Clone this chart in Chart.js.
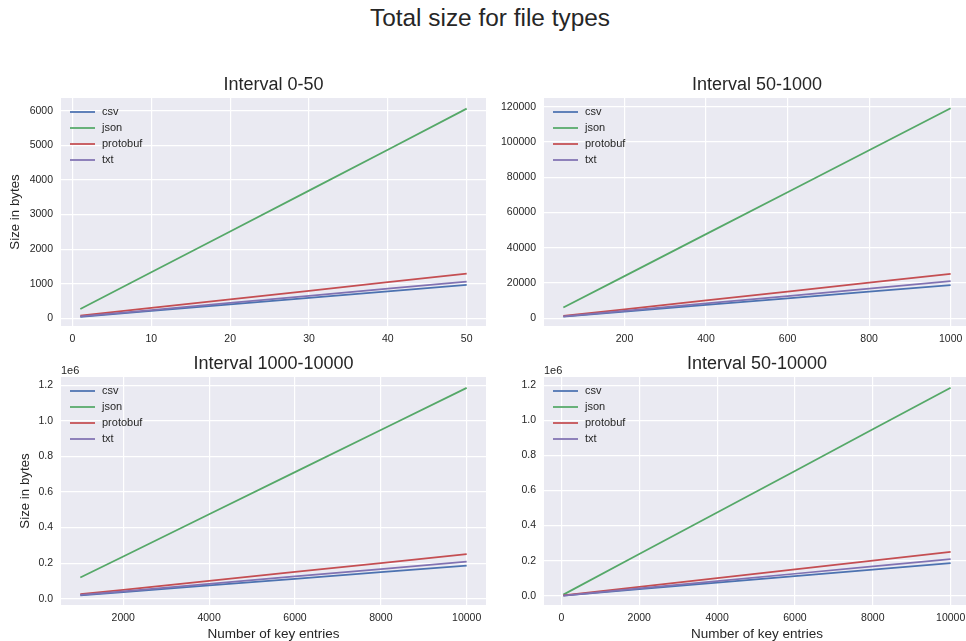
<!DOCTYPE html>
<html>
<head>
<meta charset="utf-8">
<title>Total size for file types</title>
<script src="https://cdn.jsdelivr.net/npm/chart.js@4.4.1/dist/chart.umd.min.js"></script>
<style>
  html, body { margin: 0; padding: 0; background: #fff; overflow: hidden; }
  body { width: 966px; height: 641px; position: relative; font-family: "Liberation Sans", Arial, sans-serif; }
  #suptitle { position: absolute; left: 0; top: 4px; width: 980px; text-align: center; font-size: 24.4px; line-height: 28px; color: #262626; }
  canvas { position: absolute; }
</style>
</head>
<body>
<div id="suptitle">Total size for file types</div>
<canvas id="c1" style="left:0;top:60px" width="500" height="292"></canvas>
<canvas id="c2" style="left:490px;top:60px" width="490" height="292"></canvas>
<canvas id="c3" style="left:0;top:340px" width="500" height="305"></canvas>
<canvas id="c4" style="left:490px;top:340px" width="490" height="305"></canvas>
<script>
const seriesNames = ['csv', 'json', 'protobuf', 'txt'];
const seriesColors = ['#4C72B0', '#55A868', '#C44E52', '#8172B2'];

// interval 0-50
const entries0to50 = [1, 10, 20, 30, 40, 50];
const csv0to50 = [45, 215, 404, 593, 782, 970];
const json0to50 = [267, 1330, 2510, 3690, 4870, 6060];
const protobuf0to50 = [80, 302, 549, 796, 1043, 1290];
const txt0to50 = [55, 240, 445, 650, 855, 1060];
const xTicks0to50 = [0, 10, 20, 30, 40, 50];
const yTicks0to50 = [0, 1000, 2000, 3000, 4000, 5000, 6000];

// interval 50-1000
const entries50to1000 = [50, 200, 400, 600, 800, 1000];
const csv50to1000 = [970, 3790, 7550, 11300, 15050, 18800];
const json50to1000 = [6060, 23900, 47700, 71500, 95300, 119100];
const protobuf50to1000 = [1290, 5060, 10100, 15130, 20170, 25200];
const txt50to1000 = [1060, 4210, 8400, 12600, 16800, 21000];
const xTicks50to1000 = [200, 400, 600, 800, 1000];
const yTicks50to1000 = [0, 20000, 40000, 60000, 80000, 100000, 120000];

// interval 1000-10000
const entries1000to10000 = [1000, 2000, 4000, 6000, 8000, 10000];
const csv1000to10000 = [18800, 37400, 74500, 111700, 148900, 186000];
const json1000to10000 = [119100, 237600, 474600, 711600, 948600, 1185600];
const protobuf1000to10000 = [25200, 50200, 100200, 150200, 200200, 250200];
const txt1000to10000 = [21000, 41800, 83500, 125200, 166900, 208600];
const xTicks1000to10000 = [2000, 4000, 6000, 8000, 10000];

// interval 50-10000
const entries50to10000 = [50, 2000, 4000, 6000, 8000, 10000];
const csv50to10000 = [970, 37400, 74500, 111700, 148900, 186000];
const json50to10000 = [6060, 237600, 474600, 711600, 948600, 1185600];
const protobuf50to10000 = [1290, 50200, 100200, 150200, 200200, 250200];
const txt50to10000 = [1060, 41800, 83500, 125200, 166900, 208600];
const xTicks50to10000 = [0, 2000, 4000, 6000, 8000, 10000];

// both big panels share the 1e6 axis
const yTicksMillions = [0, 200000, 400000, 600000, 800000, 1000000, 1200000];

const fontFamily = '"Liberation Sans", Arial, sans-serif';
const textColor = '#262626';

Chart.defaults.font.family = fontFamily;
Chart.defaults.color = textColor;

// seaborn-ish background, frameless legend and the 1e6 offset text
const panelDecor = {
    id: 'panelDecor',
    beforeDraw(chart) {
        const {ctx, chartArea: a} = chart;
        ctx.save();
        ctx.fillStyle = '#EAEAF2';
        ctx.fillRect(a.left, a.top, a.right - a.left, a.bottom - a.top);
        ctx.restore();
    },
    afterDraw(chart, args, opts) {
        const {ctx, chartArea: a} = chart;
        ctx.save();
        ctx.font = `11px ${fontFamily}`;
        ctx.textBaseline = 'middle';
        chart.data.datasets.forEach((ds, i) => {
            const y = a.top + 14 + i * 16;
            ctx.strokeStyle = ds.borderColor;
            ctx.lineWidth = 1.75;
            ctx.beginPath();
            ctx.moveTo(a.left + 9, y);
            ctx.lineTo(a.left + 34, y);
            ctx.stroke();
            ctx.fillStyle = textColor;
            ctx.fillText(ds.label, a.left + 41, y);
        });
        if (opts.offsetText) {
            ctx.fillStyle = textColor;
            ctx.fillText(opts.offsetText, a.left, a.top - 6);
        }
        ctx.restore();
    }
};

const makeChart = (id, cfg) => {
    const datasets = seriesNames.map((name, i) => ({
        label: name,
        data: cfg.x.map((x, j) => ({x: x, y: cfg.series[i][j]})),
        borderColor: seriesColors[i],
        backgroundColor: seriesColors[i],
        borderWidth: 1.75,
        pointRadius: 0,
        tension: 0,
        order: seriesNames.length - i
    }));

    const grid = {color: '#FFFFFF', lineWidth: 1.2, drawTicks: false};

    return new Chart(document.getElementById(id), {
        type: 'line',
        data: {datasets},
        plugins: [panelDecor],
        options: {
            responsive: false,
            animation: false,
            events: [],
            layout: {padding: {left: 0, right: cfg.padRight, top: 0, bottom: 0}},
            plugins: {
                legend: {display: false},
                tooltip: {enabled: false},
                title: {
                    display: true,
                    text: cfg.title,
                    fullSize: false,
                    color: textColor,
                    font: {size: 18, weight: 'normal'},
                    padding: {top: cfg.titleTop, bottom: cfg.titleBottom}
                },
                panelDecor: {offsetText: cfg.offsetText}
            },
            scales: {
                x: {
                    type: 'linear',
                    min: cfg.xMin,
                    max: cfg.xMax,
                    grid: grid,
                    border: {display: false},
                    ticks: {
                        padding: 7,
                        maxRotation: 0,
                        autoSkip: false,
                        font: {size: 10.5},
                        callback: (v) => String(v)
                    },
                    afterBuildTicks: (scale) => {
                        scale.ticks = cfg.xTicks.map((v) => ({value: v}));
                    },
                    title: {
                        display: !!cfg.xTitle,
                        text: cfg.xTitle,
                        font: {size: 13.5},
                        padding: {top: 0, bottom: 3}
                    },
                    afterFit: (scale) => { scale.height = cfg.xHeight; }
                },
                y: {
                    type: 'linear',
                    min: cfg.yMin,
                    max: cfg.yMax,
                    grid: grid,
                    border: {display: false},
                    ticks: {
                        padding: 8,
                        autoSkip: false,
                        font: {size: 10.5},
                        callback: (v) => cfg.offsetText ? (v / 1e6).toFixed(1) : String(v)
                    },
                    afterBuildTicks: (scale) => {
                        scale.ticks = cfg.yTicks.map((v) => ({value: v}));
                    },
                    title: {
                        display: !!cfg.yTitle,
                        text: cfg.yTitle,
                        font: {size: 13.3},
                        padding: {top: cfg.yTitlePad, bottom: 0}
                    },
                    afterFit: (scale) => { scale.width = cfg.yWidth; }
                }
            }
        }
    });
};

window.onload = () => {
    makeChart('c1', {
        title: 'Interval 0-50',
        x: entries0to50,
        series: [csv0to50, json0to50, protobuf0to50, txt0to50],
        xMin: -1.45, xMax: 52.45, xTicks: xTicks0to50,
        yMin: -222, yMax: 6367, yTicks: yTicks0to50,
        yTitle: 'Size in bytes', yTitlePad: 7.3,
        yWidth: 61, xHeight: 26, padRight: 14,
        titleTop: 14.6, titleBottom: 1.8
    });
    makeChart('c2', {
        title: 'Interval 50-1000',
        x: entries50to1000,
        series: [csv50to1000, json50to1000, protobuf50to1000, txt50to1000],
        xMin: 2.5, xMax: 1047.5, xTicks: xTicks50to1000,
        yMin: -4400, yMax: 124900, yTicks: yTicks50to1000,
        yWidth: 54, xHeight: 26, padRight: 10,
        titleTop: 14.6, titleBottom: 1.8
    });
    makeChart('c3', {
        title: 'Interval 1000-10000',
        x: entries1000to10000,
        series: [csv1000to10000, json1000to10000, protobuf1000to10000, txt1000to10000],
        xMin: 550, xMax: 10450, xTicks: xTicks1000to10000,
        yMin: -35400, yMax: 1246700, yTicks: yTicksMillions,
        offsetText: '1e6',
        xTitle: 'Number of key entries',
        yTitle: 'Size in bytes', yTitlePad: 17,
        yWidth: 61, xHeight: 40, padRight: 14,
        titleTop: 13.7, titleBottom: 1.7
    });
    makeChart('c4', {
        title: 'Interval 50-10000',
        x: entries50to10000,
        series: [csv50to10000, json50to10000, protobuf50to10000, txt50to10000],
        xMin: -447.5, xMax: 10497.5, xTicks: xTicks50to10000,
        yMin: -53000, yMax: 1247000, yTicks: yTicksMillions,
        offsetText: '1e6',
        xTitle: 'Number of key entries',
        yWidth: 54, xHeight: 40, padRight: 10,
        titleTop: 13.7, titleBottom: 1.7
    });
};
</script>
</body>
</html>
